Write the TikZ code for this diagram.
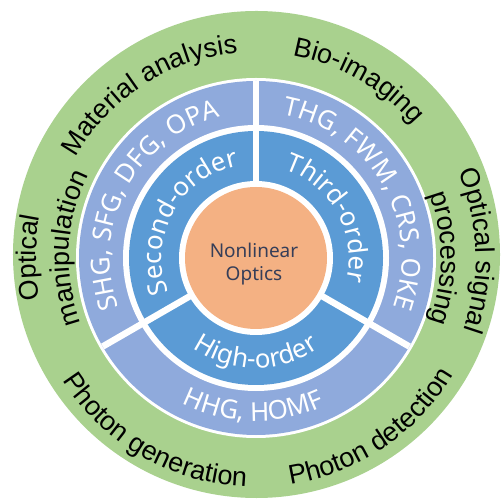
\documentclass[tikz,border=0pt]{standalone}
\usepackage{fontspec}
\setmainfont{Liberation Sans}
\newfontfamily\ringfont{Noto Sans}
\usetikzlibrary{decorations.text}

\definecolor{leafgreen}{HTML}{A9D18E}
\definecolor{paleblue}{HTML}{8FAADC}
\definecolor{midblue}{HTML}{5B9BD5}
\definecolor{peach}{HTML}{F4B183}
\definecolor{inkblue}{HTML}{363E58}

% text formats for the outer (black) and ring (white) labels
\newcommand\outerfmt{\fontsize{27}{30}\selectfont}
\newcommand\ringfmt{\ringfont\fontsize{26}{30}\selectfont}

% curved labels: radius, centre angle, half span, colour, format, text
% clockwise arc -> letters point outwards
\newcommand\cwlabel[6]{%
  \path[decorate,decoration={text along path,text align=center,
        text color=#4,text={|#5|#6}}]
    (#2+#3:#1) arc[start angle=#2+#3,end angle=#2-#3,radius=#1];}
% counter-clockwise arc -> letters point inwards
\newcommand\ccwlabel[6]{%
  \path[decorate,decoration={text along path,text align=center,
        text color=#4,text={|#5|#6}}]
    (#2-#3:#1) arc[start angle=#2-#3,end angle=#2+#3,radius=#1];}

\begin{document}
\begin{tikzpicture}[x=1pt,y=1pt,
  divider/.style={white,line width=6.5pt}]
\useasboundingbox (-256,-244) rectangle (246,258);

% application ring
\fill[leafgreen] (0.5,3.5) circle[radius=243.5];
\fill[white] (0,0) circle[radius=180];
% phenomena ring
\fill[paleblue] (0,0) circle[radius=177];
\fill[white] (0,0) circle[radius=133];
% order ring
\fill[midblue] (0,0) circle[radius=127];

% dividers between the three sectors
\coordinate (c) at (0,0);
\coordinate (d1) at (90:177);
\coordinate (d2) at (210:177);
\coordinate (d3) at (330:177);
\draw[divider] (c) -- (d1);
\draw[divider] (c) -- (d2);
\draw[divider] (c) -- (d3);

% core
\fill[white] (0,0) circle[radius=77];
\fill[peach] (0,0) circle[radius=71];
\node (nlo) [font=\ringfont\fontsize{19}{23}\selectfont,text=inkblue,
  align=center,inner sep=0pt] at (-2,-6) {Nonlinear\\Optics};

% order ring labels
\cwlabel{94}{151}{60}{white}{\ringfmt}{Second-order}
\cwlabel{93}{29}{60}{white}{\ringfmt}{Third-order}
\ccwlabel{110}{270}{60}{white}{\ringfmt}{High-order}

% phenomena ring labels
\cwlabel{146}{152}{60}{white}{\ringfmt}{SHG, SFG, DFG, OPA}
\cwlabel{146}{30}{60}{white}{\ringfmt}{THG, FWM, CRS, OKE}
\ccwlabel{163}{269}{60}{white}{\ringfmt}{HHG, HOMF}

% application labels
\cwlabel{206}{123}{50}{black}{\outerfmt}{Material analysis}
\cwlabel{206}{60}{50}{black}{\outerfmt}{Bio-imaging}
\cwlabel{220}{2}{50}{black}{\outerfmt}{Optical signal}
\cwlabel{185}{0}{50}{black}{\outerfmt}{processing}
\ccwlabel{229}{304}{50}{black}{\outerfmt}{Photon detection}
\ccwlabel{229}{240}{50}{black}{\outerfmt}{Photon generation}
\cwlabel{220}{180}{50}{black}{\outerfmt}{Optical}
\cwlabel{187}{177}{50}{black}{\outerfmt}{manipulation}
\end{tikzpicture}
\end{document}
